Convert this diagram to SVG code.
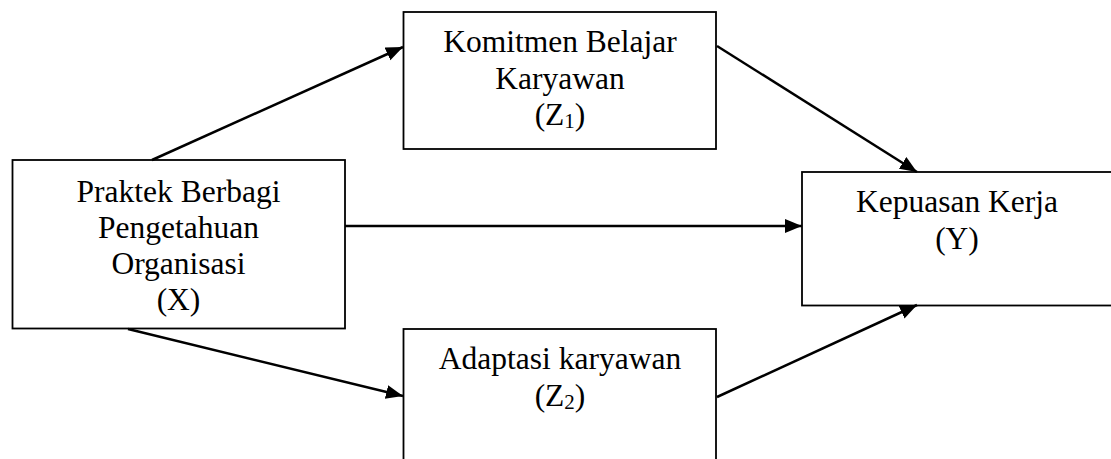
<svg xmlns="http://www.w3.org/2000/svg" width="1111" height="459" viewBox="0 0 1111 459">
<style>
.box{fill:#fff;stroke:#000;stroke-width:1.8}
.lbl{font-family:"Liberation Serif","Times New Roman",serif;font-size:31.5px;fill:#000;text-anchor:middle}
.sub{font-size:21px}
.con{stroke:#000;stroke-width:2.5;fill:none;marker-end:url(#ah)}
</style>
<defs>
<marker id="ah" markerUnits="userSpaceOnUse" markerWidth="20" markerHeight="16" refX="17" refY="7" orient="auto">
<path d="M0,0 L17,7 L0,14 z" fill="#000"/>
</marker>
</defs>
<rect width="1111" height="459" fill="#fff"/>
<g id="nodeX">
<rect class="box" x="12.5" y="160" width="332.5" height="168.5"/>
<text class="lbl" x="178.5" y="201.5">Praktek Berbagi</text>
<text class="lbl" x="178.5" y="237.5">Pengetahuan</text>
<text class="lbl" x="178.5" y="273.5">Organisasi</text>
<text class="lbl" x="178.5" y="309.5">(X)</text>
</g>
<g id="nodeZ1">
<rect class="box" x="403.5" y="12" width="312.5" height="137"/>
<text class="lbl" x="560" y="52">Komitmen Belajar</text>
<text class="lbl" x="560" y="88.5">Karyawan</text>
<text class="lbl" x="560" y="125">(Z<tspan class="sub" dy="3">1</tspan><tspan dy="-3">)</tspan></text>
</g>
<g id="nodeZ2">
<rect class="box" x="403.5" y="329" width="312.5" height="140"/>
<text class="lbl" x="560" y="369">Adaptasi karyawan</text>
<text class="lbl" x="560" y="406">(Z<tspan class="sub" dy="3">2</tspan><tspan dy="-3">)</tspan></text>
</g>
<g id="nodeY">
<rect class="box" x="802" y="172" width="320" height="133.5"/>
<text class="lbl" x="957" y="211.5">Kepuasan Kerja</text>
<text class="lbl" x="957" y="249">(Y)</text>
</g>
<g id="connectors">
<path class="con" d="M152,160 L403,47"/>
<path class="con" d="M717,46 L917,172"/>
<path class="con" d="M345,226 L802,226"/>
<path class="con" d="M128,329 L403,396"/>
<path class="con" d="M717,397 L917,305"/>
</g>
</svg>
